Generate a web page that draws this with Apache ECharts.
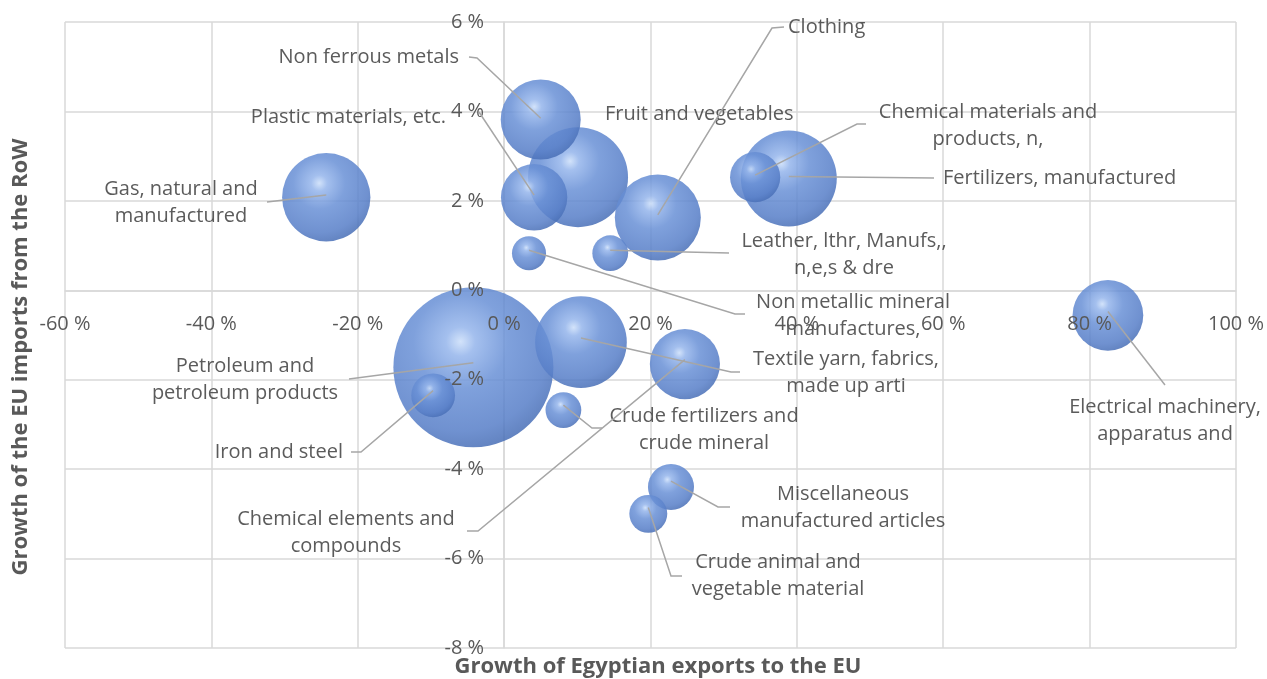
<!DOCTYPE html>
<html>
<head>
<meta charset="utf-8">
<script src="https://cdn.jsdelivr.net/npm/echarts@6/dist/echarts.min.js"></script>
<style>
  html, body { margin: 0; padding: 0; background: #fff; }
  #chart { width: 1267px; height: 679px; }
</style>
</head>
<body>
<div id="chart"></div>
<script>
// product groups (SITC), label text as shown in the chart
const products = [
  'Petroleum and\npetroleum products',
  'Fruit and vegetables',
  'Fertilizers, manufactured',
  'Textile yarn, fabrics,\nmade up arti',
  'Gas, natural and\nmanufactured',
  'Clothing',
  'Non ferrous metals',
  'Electrical machinery,\napparatus and',
  'Chemical elements and\ncompounds',
  'Plastic materials, etc.',
  'Chemical materials and\nproducts, n,',
  'Miscellaneous\nmanufactured articles',
  'Iron and steel',
  'Crude animal and\nvegetable material',
  'Non metallic mineral\nmanufactures,',
  'Leather, lthr, Manufs,,\nn,e,s & dre',
  'Crude fertilizers and\ncrude mineral'
]
// growth of Egyptian exports to the EU (%)
const exportGrowth = [-4.2, 10.1, 38.9, 10.5, -24.3, 21.0, 5.0, 82.5, 24.7, 4.1, 34.3, 22.8, -9.7, 19.7, 3.4, 14.5, 8.1]
// growth of the EU imports from the RoW (%)
const importGrowth = [-1.72, 2.53, 2.5, -1.16, 2.08, 1.63, 3.82, -0.56, -1.65, 2.08, 2.53, -4.4, -2.35, -5.0, 0.83, 0.83, -2.68]
// bubble size (relative trade value)
const tradeValue = [64, 25, 23, 21, 19.5, 18.5, 16, 12.5, 12.3, 11, 6.3, 5.3, 4.8, 3.6, 2.9, 3.2, 3.2]

const xTicks = { min: -60, max: 100, step: 20 }
const yTicks = { min: -8, max: 6, step: 2 }

// label placement (pixels) and leader line anchor points, layout only
const labelPos = [
  [245, 380, 'center'], [605, 114, 'left'], [943, 178, 'left'], [846, 373, 'center'],
  [181, 203, 'center'], [788, 27, 'left'], [459, 57, 'right'], [1165, 421, 'center'],
  [346, 533, 'center'], [446, 117, 'right'], [988, 126, 'center'], [843, 508, 'center'],
  [343, 452, 'right'], [778, 576, 'center'], [853, 316, 'center'], [844, 255, 'center'],
  [704, 430, 'center']
]
const leaderPts = [
  [[349, 379]], null, [[934, 178]], [[740, 372], [731, 372]],
  [[267, 202]], [[784, 27], [772, 28]], [[469, 57], [477, 58]], [[1165, 385]],
  [[467, 531], [478, 531]], [[479, 112]], [[866, 124], [857, 124]], [[730, 507], [718, 507]],
  [[351, 452], [361, 452]], [[682, 576], [671, 576]], [[745, 314], [735, 314]], [[729, 253]],
  [[602, 428], [592, 428]]
]

const FONT = '"Open Sans"'
const GRID_GRAY = '#d9d9d9'
const chart = echarts.init(document.getElementById('chart'), null, { renderer: 'canvas' })

const bubbleFill = {
  type: 'radial', x: 0.42, y: 0.34, r: 0.7,
  colorStops: [
    { offset: 0, color: '#cbdef9' },
    { offset: 0.13, color: '#95b5eb' },
    { offset: 0.42, color: '#6a91d6' },
    { offset: 0.8, color: '#587fc8' },
    { offset: 1, color: '#466cb3' }
  ]
}

const tickLabel = { color: '#595959', fontFamily: FONT, fontSize: 20 }
const pct = v => v + ' %'

// axes 0 carry lines and grid (below bubbles); axes 1 carry only tick labels (above bubbles)
const option = {
  animation: false,
  grid: { left: 65, right: 29, top: 22, bottom: 31 },
  xAxis: [{
    type: 'value', z: 0,
    min: xTicks.min, max: xTicks.max, interval: xTicks.step,
    axisLine: { show: true, lineStyle: { color: GRID_GRAY, width: 1.5 } },
    axisTick: { show: false },
    axisLabel: { show: false },
    splitLine: { show: true, lineStyle: { color: GRID_GRAY, width: 1.5 } }
  }, {
    type: 'value', z: 10, position: 'bottom',
    min: xTicks.min, max: xTicks.max, interval: xTicks.step,
    axisLine: { show: false, onZero: false },
    axisTick: { show: false },
    axisLabel: Object.assign({ margin: 19, formatter: pct }, tickLabel),
    splitLine: { show: false }
  }],
  yAxis: [{
    type: 'value', z: 0,
    min: yTicks.min, max: yTicks.max, interval: yTicks.step,
    axisLine: { show: true, lineStyle: { color: GRID_GRAY, width: 1.5 } },
    axisTick: { show: false },
    axisLabel: { show: false },
    splitLine: { show: true, lineStyle: { color: GRID_GRAY, width: 1.5 } }
  }, {
    type: 'value', z: 10, position: 'left',
    min: yTicks.min, max: yTicks.max, interval: yTicks.step,
    axisLine: { show: false, onZero: false },
    axisTick: { show: false },
    axisLabel: Object.assign({ margin: 20, formatter: pct }, tickLabel),
    splitLine: { show: false }
  }],
  series: [{
    type: 'scatter', z: 2,
    data: products.map((n, i) => ({ name: n, value: [exportGrowth[i], importGrowth[i], tradeValue[i]] })),
    symbolSize: d => 20 * Math.sqrt(d[2]),
    itemStyle: { color: bubbleFill, opacity: 0.86 },
    label: {
      show: true,
      formatter: p => p.name,
      color: '#404040',
      fontFamily: FONT,
      fontSize: 20,
      lineHeight: 27
    },
    labelLayout: p => {
      const lp = labelPos[p.dataIndex]
      return { x: lp[0], y: lp[1], align: lp[2], verticalAlign: 'middle', hideOverlap: false }
    }
  }],
  graphic: [
    {
      type: 'text', x: 658, y: 667,
      style: { text: 'Growth of Egyptian exports to the EU', fill: '#595959', font: 'bold 22px ' + FONT, align: 'center', verticalAlign: 'middle' }
    },
    {
      type: 'text', x: 21, y: 357, rotation: Math.PI / 2,
      style: { text: 'Growth of the EU imports from the RoW', fill: '#595959', font: 'bold 22px ' + FONT, align: 'center', verticalAlign: 'middle' }
    }
  ]
}
chart.setOption(option)

// the tick-label axes cross at zero: shift them from the grid edge to the zero lines
const origin = chart.convertToPixel({ xAxisIndex: 0, yAxisIndex: 0 }, [0, 0])
const corner = chart.convertToPixel({ xAxisIndex: 0, yAxisIndex: 0 }, [xTicks.min, yTicks.min])

// leader lines: from label anchor to the bubble centre (centre comes from the axes)
const leaders = []
products.forEach((n, i) => {
  if (!leaderPts[i]) return
  const c = chart.convertToPixel({ xAxisIndex: 0, yAxisIndex: 0 }, [exportGrowth[i], importGrowth[i]])
  leaders.push({
    type: 'polyline', z: 100, silent: true,
    shape: { points: leaderPts[i].concat([c]) },
    style: { stroke: '#a6a6a6', lineWidth: 1.5, fill: null }
  })
})
chart.setOption({
  xAxis: [{}, { offset: origin[1] - corner[1] }],
  yAxis: [{}, { offset: corner[0] - origin[0] }],
  graphic: option.graphic.concat(leaders)
})
</script>
</body>
</html>
